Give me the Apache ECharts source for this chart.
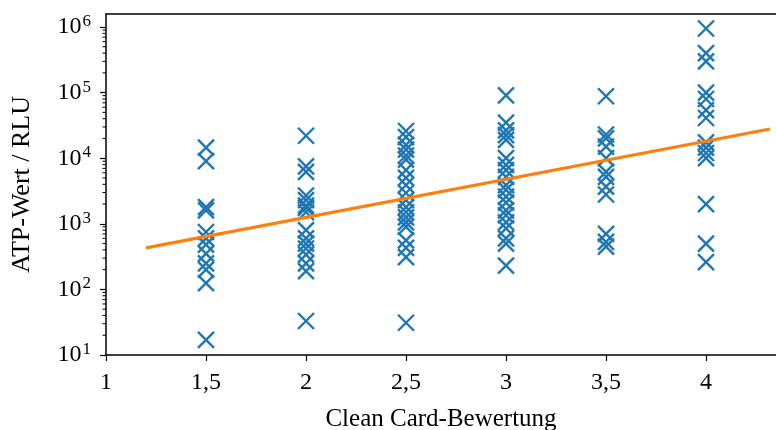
<!DOCTYPE html>
<html>
<head>
<meta charset="utf-8">
<script src="https://cdn.jsdelivr.net/npm/echarts@6/dist/echarts.min.js"></script>
<style>
    html, body { margin: 0; padding: 0; background: #fff; }
    #main { width: 776px; height: 430px; }
</style>
</head>
<body>
<div id="main"></div>
<script>
    // Clean Card score groups
    var scores = [1.5, 2, 2.5, 3, 3.5, 4];
    // ATP values (RLU) per score
    var atp15 = [14500, 9000, 1800, 1600, 750, 600, 480, 350, 250, 200, 125, 17];
    var atp20 = [22000, 7500, 6200, 2700, 2300, 1900, 1750, 1500, 800, 600, 500, 420, 340, 250, 190, 33];
    var atp25 = [26000, 21000, 16000, 13500, 11000, 9500, 6600, 5000, 3900, 2950, 2300, 1800, 1500, 1250, 1050, 900, 560, 430, 310, 31];
    var atp30 = [91000, 35000, 26500, 22500, 19000, 10000, 7900, 6600, 5200, 3900, 3300, 2600, 2100, 1600, 1350, 1050, 850, 600, 500, 230];
    var atp35 = [88000, 23000, 20000, 15000, 10000, 6200, 5200, 3700, 2800, 700, 530, 450];
    var atp40 = [950000, 400000, 300000, 100000, 80000, 54000, 41000, 17500, 14500, 12000, 10000, 2000, 500, 260];
    // fitted trend line, read at its two ends
    var fitX = [1.2, 4.32];
    var fitY = [430, 27900];

    var groups = [atp15, atp20, atp25, atp30, atp35, atp40];
    var points = [];
    for (var i = 0; i < scores.length; i++) {
        for (var j = 0; j < groups[i].length; j++) {
            points.push([scores[i], groups[i][j]]);
        }
    }
    var fitData = [[fitX[0], fitY[0]], [fitX[1], fitY[1]]];

    var font = 'Liberation Serif';
    var chart = echarts.init(document.getElementById('main'));

    var option = {
        animation: false,
        grid: { left: 106, right: 0, top: 14, bottom: 75, outerBoundsMode: 'none' },
        xAxis: [{
            type: 'value',
            min: 1,
            max: 4.35,
            interval: 0.5,
            name: 'Clean Card-Bewertung',
            nameLocation: 'middle',
            nameGap: 52,
            nameTextStyle: { fontFamily: font, fontSize: 25, color: '#000' },
            axisLine: { lineStyle: { color: '#000', width: 1.5 } },
            axisTick: { inside: false, length: 6, lineStyle: { color: '#000', width: 1.2 } },
            splitLine: { show: false },
            axisLabel: {
                fontFamily: font, fontSize: 24, color: '#000', margin: 16,
                showMaxLabel: false,
                formatter: function (v) { return String(v).replace('.', ','); }
            }
        }, {
            type: 'value',
            position: 'top',
            min: 1,
            max: 4.35,
            axisLine: { show: true, onZero: false, lineStyle: { color: '#000', width: 1.5 } },
            axisTick: { show: false },
            axisLabel: { show: false },
            splitLine: { show: false }
        }],
        yAxis: {
            type: 'log',
            logBase: 10,
            min: 10,
            max: 1.58e6,
            name: 'ATP-Wert / RLU',
            nameLocation: 'middle',
            nameGap: 71,
            nameTextStyle: { fontFamily: font, fontSize: 26, color: '#000' },
            axisLine: { show: true, lineStyle: { color: '#000', width: 1.5 } },
            axisTick: { inside: false, length: 6, lineStyle: { color: '#000', width: 1.2 } },
            splitLine: { show: false },
            axisLabel: {
                margin: 15,
                color: '#000',
                formatter: function (v) {
                    var e = Math.round(Math.log(v) / Math.LN10);
                    return '{b|10}{s|' + e + '}';
                },
                rich: {
                    b: { fontFamily: font, fontSize: 24, color: '#000' },
                    s: { fontFamily: font, fontSize: 17, color: '#000', padding: [0, 0, 11, 1] }
                }
            }
        },
        series: [{
            type: 'scatter',
            data: points,
            symbol: 'path://M0,0L10,10M10,0L0,10',
            symbolSize: 16,
            itemStyle: { color: '#1f77b4', borderColor: '#1f77b4', borderWidth: 2.4, opacity: 1 },
            z: 2
        }, {
            type: 'line',
            data: fitData,
            symbol: 'none',
            lineStyle: { color: '#ff7f0e', width: 3.2 },
            z: 3
        }]
    };
    chart.setOption(option);

    // minor log ticks (2..9 in each decade), placed via the axis scale
    var minor = [];
    var x0 = chart.convertToPixel({ xAxisIndex: 0 }, 1);
    for (var d = 1; d < 7; d++) {
        for (var k = 2; k < 10; k++) {
            var v = k * Math.pow(10, d);
            if (v > 1.58e6) continue;
            var py = chart.convertToPixel({ yAxisIndex: 0 }, v);
            minor.push({
                type: 'line',
                shape: { x1: x0 - 3.5, y1: py, x2: x0, y2: py },
                style: { stroke: '#000', lineWidth: 1 }
            });
        }
    }
    chart.setOption({ graphic: minor });
</script>
</body>
</html>
